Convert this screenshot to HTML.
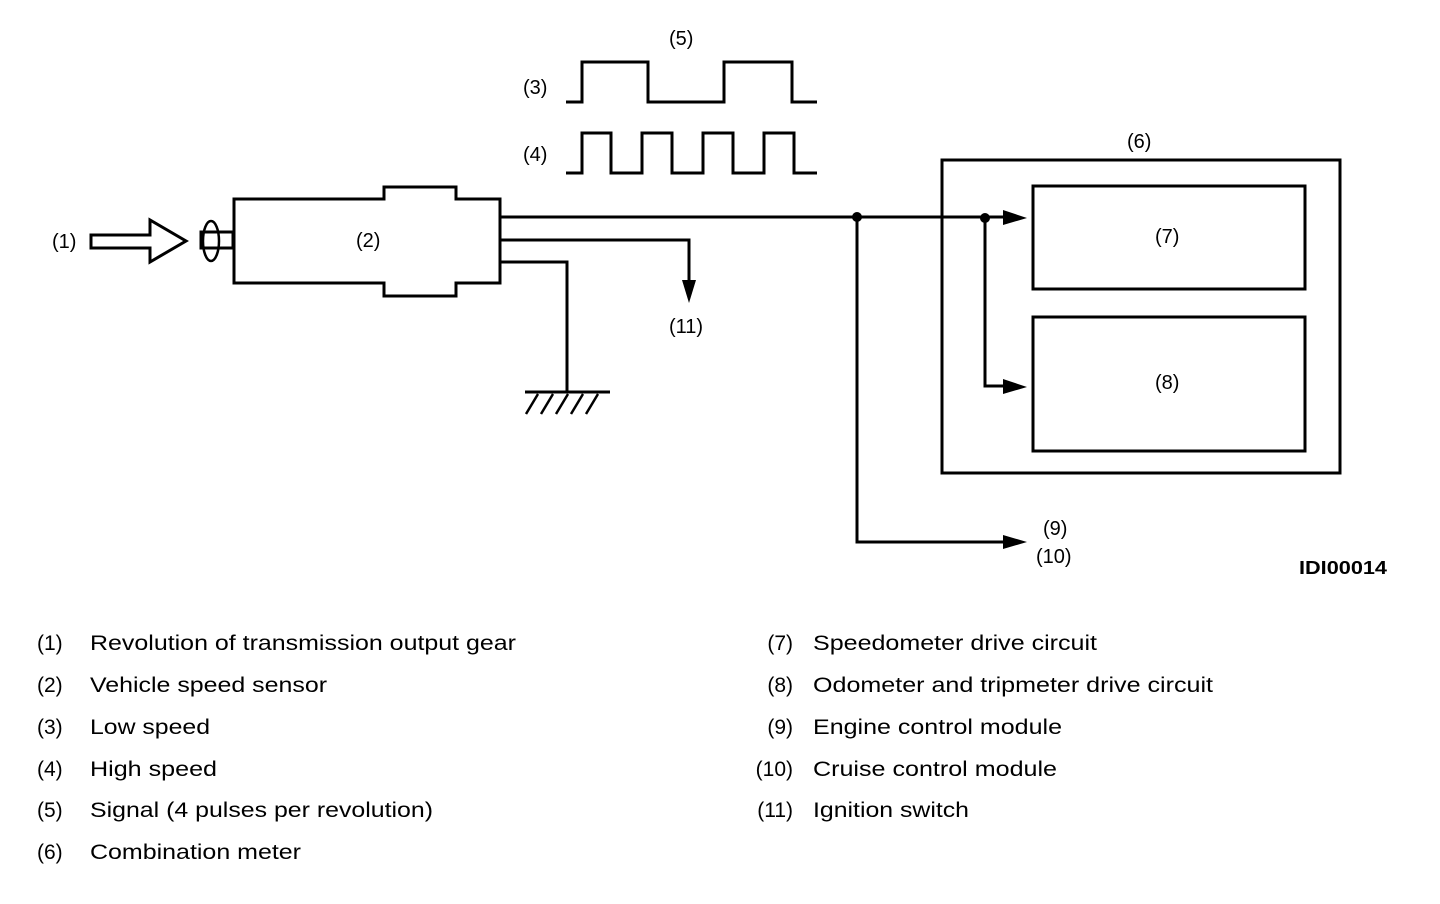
<!DOCTYPE html>
<html><head><meta charset="utf-8"><style>
html,body{margin:0;padding:0;background:#fff;}
svg{display:block;}
text{font-family:"Liberation Sans",Arial,sans-serif;fill:#000;}
</style></head><body>
<svg width="1440" height="904" viewBox="0 0 1440 904" xmlns="http://www.w3.org/2000/svg">
<g fill="none" stroke="#000" stroke-width="3" stroke-linejoin="miter">
<polygon points="91,235 150,235 150,220 186,241 150,262 150,248 91,248"/>
<rect x="201" y="232" width="32" height="16"/>
<ellipse cx="211" cy="241" rx="8" ry="20" stroke-width="2.5"/>
<polygon points="234,199 384,199 384,187 456,187 456,199 500,199 500,283 456,283 456,296 384,296 384,283 234,283"/>
<polyline points="566,102 582,102 582,62 648,62 648,102 724,102 724,62 792,62 792,102 817,102"/>
<polyline points="566,173 582,173 582,133 611,133 611,173 642,173 642,133 672,133 672,173 703,173 703,133 733,133 733,173 764,173 764,133 794,133 794,173 817,173"/>
<polyline points="500,217 1004,217"/>
<polyline points="500,240 689,240 689,282"/>
<polyline points="500,262 567,262 567,392"/>
<line x1="525" y1="392" x2="610" y2="392"/>
<g stroke-width="2.5">
<line x1="538" y1="394" x2="526" y2="414"/>
<line x1="553" y1="394" x2="541" y2="414"/>
<line x1="568" y1="394" x2="556" y2="414"/>
<line x1="583" y1="394" x2="571" y2="414"/>
<line x1="598" y1="394" x2="586" y2="414"/>
</g>
<polyline points="857,217 857,542 1004,542"/>
<polyline points="985,217 985,386 1004,386"/>
<rect x="942" y="160" width="398" height="313"/>
<rect x="1033" y="186" width="272" height="103"/>
<rect x="1033" y="317" width="272" height="134"/>
</g>
<g fill="#000">
<circle cx="857" cy="217" r="5"/>
<circle cx="985" cy="218" r="5"/>
<polygon points="1003,210 1027,218 1003,225"/>
<polygon points="1003,379 1027,387 1003,394"/>
<polygon points="1003,535 1027,542 1003,549"/>
<polygon points="682,280 696,280 689,303"/>
</g>
<g font-size="20">
<text x="52" y="248">(1)</text>
<text x="356" y="247">(2)</text>
<text x="523" y="94">(3)</text>
<text x="523" y="161">(4)</text>
<text x="669" y="45">(5)</text>
<text x="1127" y="148">(6)</text>
<text x="1155" y="243">(7)</text>
<text x="1155" y="389">(8)</text>
<text x="669" y="333">(11)</text>
<text x="1043" y="535">(9)</text>
<text x="1036" y="563">(10)</text>
<text x="1299" y="574" font-weight="bold" font-size="18" textLength="88" lengthAdjust="spacingAndGlyphs">IDI00014</text>
</g>
<g font-size="21">
<text x="37" y="650">(1)</text><text x="90" y="650" textLength="426" lengthAdjust="spacingAndGlyphs">Revolution of transmission output gear</text>
<text x="37" y="692">(2)</text><text x="90" y="692" textLength="237" lengthAdjust="spacingAndGlyphs">Vehicle speed sensor</text>
<text x="37" y="734">(3)</text><text x="90" y="734" textLength="120" lengthAdjust="spacingAndGlyphs">Low speed</text>
<text x="37" y="776">(4)</text><text x="90" y="776" textLength="127" lengthAdjust="spacingAndGlyphs">High speed</text>
<text x="37" y="817">(5)</text><text x="90" y="817" textLength="343" lengthAdjust="spacingAndGlyphs">Signal (4 pulses per revolution)</text>
<text x="37" y="859">(6)</text><text x="90" y="859" textLength="211" lengthAdjust="spacingAndGlyphs">Combination meter</text>
<text x="793" y="650" text-anchor="end">(7)</text><text x="813" y="650" textLength="284" lengthAdjust="spacingAndGlyphs">Speedometer drive circuit</text>
<text x="793" y="692" text-anchor="end">(8)</text><text x="813" y="692" textLength="400" lengthAdjust="spacingAndGlyphs">Odometer and tripmeter drive circuit</text>
<text x="793" y="734" text-anchor="end">(9)</text><text x="813" y="734" textLength="249" lengthAdjust="spacingAndGlyphs">Engine control module</text>
<text x="793" y="776" text-anchor="end">(10)</text><text x="813" y="776" textLength="244" lengthAdjust="spacingAndGlyphs">Cruise control module</text>
<text x="793" y="817" text-anchor="end">(11)</text><text x="813" y="817" textLength="156" lengthAdjust="spacingAndGlyphs">Ignition switch</text>
</g>
</svg>
</body></html>
